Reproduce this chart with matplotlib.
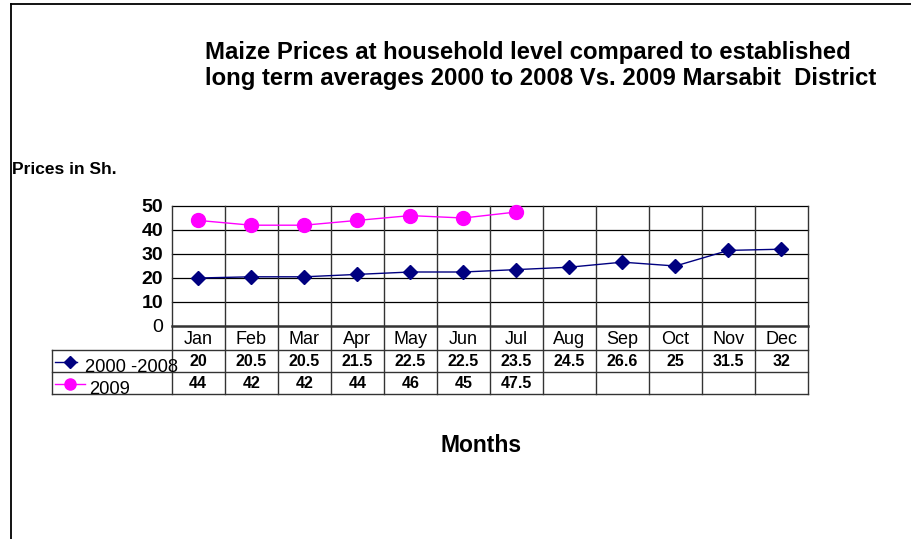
import numpy as np
import matplotlib.pyplot as plt
from matplotlib.lines import Line2D

plt.rcParams['font.family'] = ['Liberation Sans', 'DejaVu Sans']

months = ["Jan", "Feb", "Mar", "Apr", "May", "Jun", "Jul",
          "Aug", "Sep", "Oct", "Nov", "Dec"]
avg_label = "2000 -2008"
avg_prices = [20, 20.5, 20.5, 21.5, 22.5, 22.5, 23.5, 24.5, 26.6, 25, 31.5, 32]
y2009_label = "2009"
y2009_prices = [44, 42, 42, 44, 46, 45, 47.5]
yticks = [0, 10, 20, 30, 40, 50]

W, H = 912, 539
fig = plt.figure(figsize=(W / 100, H / 100), dpi=100)

# figure border (top and left only)
fig.add_artist(Line2D([11 / W, 11 / W], [0, 1 - 4 / H], color="black", lw=1.3))
fig.add_artist(Line2D([11 / W, 1], [1 - 4 / H, 1 - 4 / H], color="black", lw=1.3))

# plot area in pixels
x0, x1 = 171.7, 808
ytop, ybot = 206, 326
ax = fig.add_axes([x0 / W, 1 - ybot / H, (x1 - x0) / W, (ybot - ytop) / H])
n = len(months)
ax.set_xlim(0, n)
ax.set_ylim(0, 50)
for s in ax.spines.values():
    s.set_visible(False)
ax.set_xticks([])
ax.set_yticks(yticks)
ax.set_yticklabels([str(v) for v in yticks])
ax.tick_params(axis="y", length=0, pad=6, labelsize=14)
for lab in ax.get_yticklabels()[1:]:
    lab.set_fontweight("bold")

px_per_unit_y = (ybot - ytop) / 50.0
px_per_col = (x1 - x0) / n


def py(pix):
    # pixel row -> data y
    return (ybot - pix) / px_per_unit_y


def px(pix):
    return (pix - x0) / px_per_col


row_top, row_mid, row_bot = py(350), py(372), py(394)
tab_left = px(51.7)

# horizontal gridlines
for v in yticks[1:]:
    ax.plot([0, n], [v, v], color="black", lw=0.9, clip_on=False, zorder=1)
ax.plot([0, n], [0, 0], color="#333333", lw=1.8, clip_on=False, zorder=1)

# vertical lines through plot and table
for i in range(n + 1):
    ax.plot([i, i], [50, row_bot], color="#333333", lw=1.0, clip_on=False, zorder=1)

# table rows
for yy in [row_top, row_mid, row_bot]:
    ax.plot([tab_left, n], [yy, yy], color="#333333", lw=1.0, clip_on=False, zorder=1)
ax.plot([tab_left, tab_left], [row_top, row_bot], color="#333333", lw=1.0, clip_on=False)

# series
xs = np.arange(n) + 0.5
ax.plot(xs, avg_prices, color="#000080", lw=1.0, marker="D", ms=7,
        clip_on=False, zorder=3)
ax.plot(xs[:len(y2009_prices)], y2009_prices, color="#FF00FF", lw=1.0, marker="o",
        ms=10, clip_on=False, zorder=3)

# month labels
for i, m in enumerate(months):
    ax.text(xs[i], py(340), m, ha="center", va="center", fontsize=13, clip_on=False)

# table values
for i, v in enumerate(avg_prices):
    ax.text(xs[i], py(362), f"{v:g}", ha="center", va="center", fontsize=11.5,
            fontweight="bold", clip_on=False)
for i, v in enumerate(y2009_prices):
    ax.text(xs[i], py(384), f"{v:g}", ha="center", va="center", fontsize=11.5,
            fontweight="bold", clip_on=False)

# legend keys inside the table
ax.plot([px(55), px(77)], [py(362), py(362)], color="#000080", lw=1.0, clip_on=False)
ax.plot([px(70)], [py(362)], color="#000080", marker="D", ms=6, clip_on=False)
ax.text(px(85), py(367), avg_label, ha="left", va="center", fontsize=13.2, clip_on=False)
ax.plot([px(55), px(85)], [py(384), py(384)], color="#FF00FF", lw=1.0, clip_on=False)
ax.plot([px(70)], [py(384)], color="#FF00FF", marker="o", ms=8, clip_on=False)
ax.text(px(89), py(390), y2009_label, ha="left", va="center", fontsize=13.2, clip_on=False)

# titles
fig.text(205 / W, 1 - 52 / H,
         "Maize Prices at household level compared to established",
         ha="left", va="center", fontsize=17.2, fontweight="bold")
fig.text(205 / W, 1 - 79 / H,
         "long term averages 2000 to 2008 Vs. 2009 Marsabit  District",
         ha="left", va="center", fontsize=17.2, fontweight="bold")
fig.text(12 / W, 1 - 169 / H, "Prices in Sh.", ha="left", va="center",
         fontsize=12.5, fontweight="bold")
fig.text(481 / W, 1 - 445 / H, "Months", ha="center", va="center",
         fontsize=16.5, fontweight="bold")

fig.savefig("out.png", dpi=100)
